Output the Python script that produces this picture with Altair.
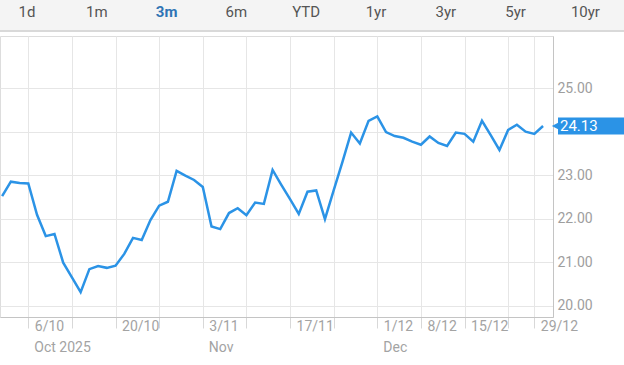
import altair as alt
import pandas as pd

# Trading dates (weekends and 25/26 Dec skipped) and closing prices
dates = [
    "2025-10-01", "2025-10-02", "2025-10-03",
    "2025-10-06", "2025-10-07", "2025-10-08", "2025-10-09", "2025-10-10",
    "2025-10-13", "2025-10-14", "2025-10-15", "2025-10-16", "2025-10-17",
    "2025-10-20", "2025-10-21", "2025-10-22", "2025-10-23", "2025-10-24",
    "2025-10-27", "2025-10-28", "2025-10-29", "2025-10-30", "2025-10-31",
    "2025-11-03", "2025-11-04", "2025-11-05", "2025-11-06", "2025-11-07",
    "2025-11-10", "2025-11-11", "2025-11-12", "2025-11-13", "2025-11-14",
    "2025-11-17", "2025-11-18", "2025-11-19", "2025-11-20", "2025-11-21",
    "2025-11-24", "2025-11-25", "2025-11-26", "2025-11-27", "2025-11-28",
    "2025-12-01", "2025-12-02", "2025-12-03", "2025-12-04", "2025-12-05",
    "2025-12-08", "2025-12-09", "2025-12-10", "2025-12-11", "2025-12-12",
    "2025-12-15", "2025-12-16", "2025-12-17", "2025-12-18", "2025-12-19",
    "2025-12-22", "2025-12-23", "2025-12-24",
    "2025-12-29", "2025-12-30",
]
prices = [
    22.52, 22.85, 22.82,
    22.81, 22.09, 21.60, 21.65, 20.99,
    20.65, 20.31, 20.84, 20.91, 20.87,
    20.92, 21.19, 21.56, 21.51, 21.97,
    22.30, 22.39, 23.10, 22.99, 22.89,
    22.73, 21.82, 21.76, 22.13, 22.24,
    22.08, 22.37, 22.34, 23.12, 22.78,
    22.45, 22.11, 22.62, 22.65, 21.99,
    22.65, 23.30, 23.98, 23.73, 24.25,
    24.35, 23.99, 23.90, 23.86, 23.77,
    23.70, 23.89, 23.74, 23.67, 23.98,
    23.95, 23.77, 24.25, 23.92, 23.58,
    24.04, 24.16, 24.00,
    23.95, 24.13,
]

tick_dates = ["2025-10-06", "2025-10-13", "2025-10-20", "2025-10-27", "2025-11-03",
              "2025-11-10", "2025-11-17", "2025-11-24", "2025-12-01", "2025-12-08",
              "2025-12-15", "2025-12-22", "2025-12-29"]
tick_labels = ["6/10", "", "20/10", "", "3/11", "", "17/11", "", "1/12", "8/12",
               "15/12", "", "29/12"]
month_dates = ["2025-10-06", "2025-11-03", "2025-12-01"]
month_labels = ["Oct 2025", "Nov", "Dec"]

y_ticks = [20, 21, 22, 23, 24, 25]
y_hidden = 24  # label covered by the last-price tag in the reference
ranges = ["1d", "1m", "3m", "6m", "YTD", "1yr", "3yr", "5yr", "10yr"]
active_range = "3m"

origin = dates.index("2025-10-06")
idx = {d: i - origin for i, d in enumerate(dates)}

df = pd.DataFrame({"date": dates, "price": prices})
df["i"] = [idx[d] for d in dates]

tick_vals = [idx[d] for d in tick_dates]
expr = "''"
for v, lab in reversed(list(zip(tick_vals, tick_labels))):
    expr = f"datum.value == {v} ? '{lab}' : ({expr})"

months = pd.DataFrame({"i": [idx[d] for d in month_dates], "label": month_labels})
last = df.iloc[[-1]].copy()
last["label"] = last["price"].map(lambda v: f"{v:.2f}")

W, H = 553, 281
BLUE = "#2b93e6"
FONT = "Roboto"

x_scale = alt.Scale(domain=[-3.244, 60.14], nice=False, zero=False)
y_scale = alt.Scale(domain=[19.74, 26.20], nice=False, zero=False)

x_axis = alt.Axis(values=tick_vals, labelExpr=expr, title=None, grid=True,
                  gridColor="#e6e6e6", domainColor="#c4c4c4", tickColor="#d8d8d8",
                  tickSize=11, labelAlign="left", labelBaseline="top",
                  labelOffset=6, labelPadding=-9, labelFontSize=14,
                  labelColor="#a3a3a3", labelFont=FONT, labelOverlap=False,
                  labelFlush=False, labelBound=False)
y_axis = alt.Axis(values=y_ticks, orient="right", title=None,
                  labelExpr=f"datum.value == {y_hidden} ? '' : format(datum.value, '.2f')",
                  grid=True, gridColor="#e6e6e6", domainColor="#c4c4c4",
                  ticks=False, labelPadding=4, labelFontSize=14,
                  labelColor="#9e9e9e", labelFont=FONT)

line = alt.Chart(df).mark_line(color=BLUE, strokeWidth=2.5, clip=True).encode(
    x=alt.X("i:Q", scale=x_scale, axis=x_axis),
    y=alt.Y("price:Q", scale=y_scale, axis=y_axis),
)

month_text = alt.Chart(months).mark_text(
    align="left", baseline="middle", dx=6, fontSize=14, color="#a3a3a3", font=FONT
).encode(x=alt.X("i:Q", scale=x_scale), y=alt.value(H + 31), text="label:N")

tag_rect = alt.Chart(last).transform_calculate(
    top="datum.price + 0.195", bot="datum.price - 0.195"
).mark_rect(color=BLUE).encode(
    x=alt.value(558), x2=alt.value(624),
    y=alt.Y("top:Q", scale=y_scale), y2="bot:Q",
)
tag_tip = alt.Chart(last).mark_point(
    shape="M 1 -1 L -1 0 L 1 1 Z", filled=True, color=BLUE, opacity=1, size=70
).encode(x=alt.value(556), y=alt.Y("price:Q", scale=y_scale))
tag_text = alt.Chart(last).mark_text(
    align="left", baseline="middle", dx=0, fontSize=15, color="white", font=FONT
).encode(x=alt.value(560), y=alt.Y("price:Q", scale=y_scale), text="label:N")

rdf = pd.DataFrame({"r": ranges, "k": list(range(len(ranges)))})
rdf["active"] = rdf["r"] == active_range
header_bg = alt.Chart(rdf).mark_rect(color="#f4f4f4").encode(
    x=alt.value(0), x2=alt.value(624), y=alt.value(-36), y2=alt.value(-5))
header_line = alt.Chart(rdf).mark_rule(color="#d9d9d9", strokeWidth=2).encode(
    x=alt.value(0), x2=alt.value(624), y=alt.value(-5))
header_base = alt.Chart(rdf).transform_calculate(px="27 + datum.k * 69.8")
header_text = header_base.transform_filter("!datum.active").mark_text(
    baseline="middle", fontSize=15, font=FONT, color="#555555"
).encode(x=alt.X("px:Q", scale=None), y=alt.value(-24), text="r:N")
header_active = header_base.transform_filter("datum.active").mark_text(
    baseline="middle", fontSize=15, font=FONT, color="#2f74b5", fontWeight="bold"
).encode(x=alt.X("px:Q", scale=None), y=alt.value(-24), text="r:N")

chart = alt.layer(
    header_bg, header_line, header_text, header_active, line, month_text,
    tag_rect, tag_tip, tag_text
).properties(
    width=W, height=H,
    autosize=alt.AutoSizeParams(type="none"),
    padding={"left": 0, "top": 36, "right": 71, "bottom": 48},
).configure_view(stroke=None).configure(background="white")

chart.save("out.html", embed_options={"renderer": "svg", "actions": False})
